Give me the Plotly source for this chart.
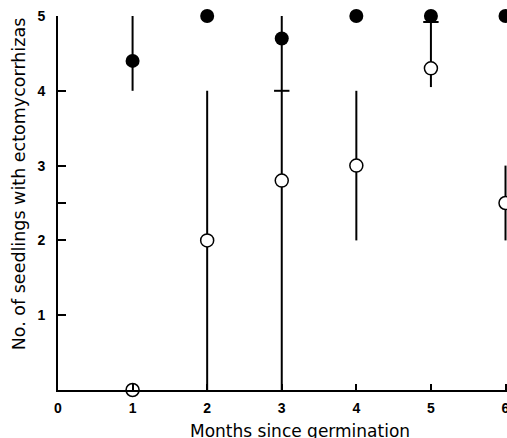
import plotly.graph_objects as go

months = [1, 2, 3, 4, 5, 6]

# filled circles (black)
filled_mean = [4.4, 5.0, 4.7, 5.0, 5.0, 5.0]
filled_low = [4.0, 5.0, 4.0, 5.0, 5.0, 5.0]
filled_high = [5.0, 5.0, 5.0, 5.0, 5.0, 5.0]
filled_cap_low = [False, False, True, False, False, False]

# open circles (white)
open_mean = [0.0, 2.0, 2.8, 3.0, 4.3, 2.5]
open_low = [0.0, 0.0, 0.0, 2.0, 4.05, 2.0]
open_high = [0.0, 4.0, 4.0, 4.0, 4.92, 3.0]
open_cap_high = [False, False, False, False, True, False]

x_ticks = [0, 1, 2, 3, 4, 5, 6]
y_ticks = [1, 2, 2.5, 3, 4, 5]
y_tick_text = ["1", "2", "", "3", "4", "5"]

fig = go.Figure()

def err_trace(means, lows, highs):
    return go.Scatter(
        x=months, y=means, mode="markers",
        marker=dict(size=1, color="rgba(0,0,0,0)"),
        error_y=dict(type="data", symmetric=False,
                     array=[h - m for h, m in zip(highs, means)],
                     arrayminus=[m - l for m, l in zip(means, lows)],
                     width=0, thickness=2, color="black"),
        showlegend=False, hoverinfo="skip", cliponaxis=False)

fig.add_trace(err_trace(filled_mean, filled_low, filled_high))
fig.add_trace(err_trace(open_mean, open_low, open_high))

cap_x = [m for m, c in zip(months, filled_cap_low) if c] + [m for m, c in zip(months, open_cap_high) if c]
cap_y = [v for v, c in zip(filled_low, filled_cap_low) if c] + [v for v, c in zip(open_high, open_cap_high) if c]
fig.add_trace(go.Scatter(x=cap_x, y=cap_y, mode="markers",
                         marker=dict(symbol="line-ew", size=11, line=dict(width=2, color="black")),
                         showlegend=False, cliponaxis=False))

fig.add_trace(go.Scatter(x=months, y=filled_mean, mode="markers",
                         marker=dict(size=14, color="black", line=dict(width=0)),
                         showlegend=False, cliponaxis=False))
fig.add_trace(go.Scatter(x=months, y=open_mean, mode="markers",
                         marker=dict(size=13, color="white", line=dict(width=1.5, color="black")),
                         showlegend=False, cliponaxis=False))

tickfont = dict(family="Liberation Sans, Arial, sans-serif", size=14, color="black", weight="bold")

fig.update_layout(
    width=507, height=438,
    margin=dict(l=58, r=0, t=16, b=48),
    paper_bgcolor="white", plot_bgcolor="white",
    xaxis=dict(range=[0, 6.02], tickvals=x_ticks, ticktext=[str(t) for t in x_ticks],
               ticks="inside", ticklen=6, tickwidth=1.5, tickcolor="black",
               showline=True, linecolor="black", linewidth=2, showgrid=False, zeroline=False,
               tickfont=tickfont, ticklabelstandoff=4, ticklabeloverflow="allow",
               automargin=False),
    yaxis=dict(range=[0, 5], tickvals=y_ticks, ticktext=y_tick_text,
               ticks="inside", ticklen=8, tickwidth=2, tickcolor="black",
               showline=True, linecolor="black", linewidth=2, showgrid=False, zeroline=False,
               tickfont=tickfont, ticklabelstandoff=8, automargin=False),
    annotations=[
        dict(text="Months since germination", xref="paper", yref="paper",
             x=0.539, y=0, yshift=-41, xanchor="center", yanchor="middle", showarrow=False,
             font=dict(family="DejaVu Sans, sans-serif", size=17, color="black")),
        dict(text="No. of seedlings with ectomycorrhizas", xref="paper", yref="paper",
             x=0, xshift=-39, y=0.55, xanchor="center", yanchor="middle", textangle=-90,
             showarrow=False,
             font=dict(family="DejaVu Sans, sans-serif", size=17.5, color="black")),
    ],
)

fig.write_html("out.html", config={"displayModeBar": False},
               post_script="document.body.style.margin='0';document.body.style.overflow='hidden';")
